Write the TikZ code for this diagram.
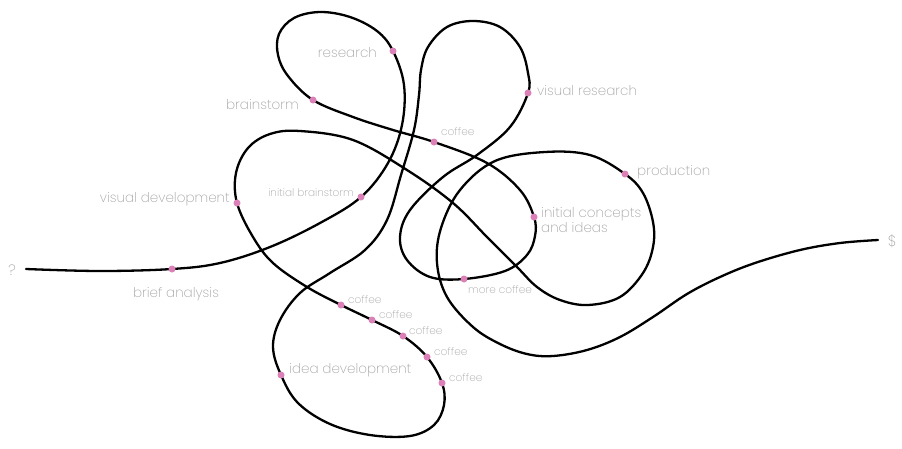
\documentclass[tikz,border=0pt]{standalone}
\usepackage{fontspec}
\setmainfont{Poppins ExtraLight}
\definecolor{txtgray}{RGB}{165,165,165}
\definecolor{dotpink}{RGB}{220,128,184}
\begin{document}
\begin{tikzpicture}[x=1pt,y=-1pt,
  path line/.style={line width=2.3pt,line join=round,line cap=round},
  lbl/.style={text=txtgray,inner sep=0pt,font=\fontsize{13.5}{14.5}\selectfont},
  endlbl/.style={text=txtgray,inner sep=0pt,font=\fontsize{15}{16}\selectfont},
  smalllbl/.style={text=txtgray,inner sep=0pt,font=\fontsize{10.5}{12}\selectfont},
  dot/.style={circle,fill=dotpink,inner sep=0pt,minimum size=7pt}]
\useasboundingbox (0,0) rectangle (902,448);
% milestone coordinates
\coordinate (start) at (26,269);
\coordinate (brief) at (172,269);
\coordinate (ibrain) at (361,197);
\coordinate (research) at (393,51);
\coordinate (brainstorm) at (313,100);
\coordinate (coffeeA) at (434,142);
\coordinate (concepts) at (534,217);
\coordinate (morecoffee) at (464,279);
\coordinate (visres) at (528,93);
\coordinate (ideadev) at (281,375);
\coordinate (cofE) at (442,383);
\coordinate (cofD) at (427,357);
\coordinate (cofC) at (403,336);
\coordinate (cofB) at (372,320);
\coordinate (cofA) at (341,305);
\coordinate (visdev) at (237,203);
\coordinate (production) at (625,174);
\coordinate (finish) at (878,240);
\draw[path line] plot[smooth,tension=0.6] coordinates {
 (start) (100,271) (brief) (220,263) (270,247) (320,223) (ibrain)
 (388,163) (402,125) (404,85) (research) (377,31) (350,17) (320,12) (294,18)
 (279,34) (278,55) (288,76) (brainstorm) (353,117) (393,130) (coffeeA)
 (487,163) (520,190) (concepts) (535,236) (527,255) (505,271) (morecoffee)
 (430,277) (407,260) (400,237) (410,210) (443,177) (477,155) (510,127)
 (visres) (528,73) (520,47) (500,27) (473,21) (447,27) (428,47) (421,70)
 (419,95) (414,130) (401,175) (387,220) (365,250) (330,273) (300,293)
 (280,320) (273,347) (ideadev) (298,403) (330,424) (370,435) (410,436)
 (434,425) (444,405) (cofE) (cofD) (cofC) (cofB) (cofA) (307,287)
 (273,263) (253,237) (visdev) (236,173) (248,148) (270,134) (300,131)
 (353,140) (407,170) (453,203) (487,237) (517,267) (537,287) (560,300)
 (588,305) (620,297) (643,273) (653,247) (653,222) (643,193) (production)
 (590,155) (545,152) (495,161) (460,190) (441,228) (437,263) (447,297)
 (473,327) (500,344) (527,354) (553,356) (587,350) (620,337) (653,317)
 (687,294) (720,277) (755,263) (800,250) (840,243) (finish)};
% dots
\foreach \p in {brief,ibrain,research,brainstorm,coffeeA,concepts,morecoffee,visres,ideadev,cofE,cofD,cofC,cofB,cofA,visdev,production}
  \node[dot] at (\p) {};
% labels
\node[endlbl] (qmark) at (12,270) {?};
\node[endlbl] (dollar) at (892,241) {\$};
\node[lbl] (tbrief) at (176,294) {brief analysis};
\node[lbl,anchor=east] (tvisdev) at (230,199) {visual development};
\node[smalllbl,anchor=east] (tibrain) at (354,193) {initial brainstorm};
\node[lbl,anchor=east] (tresearch) at (377,53) {research};
\node[lbl,anchor=east] (tbrainstorm) at (299,105) {brainstorm};
\node[smalllbl,anchor=west] (tcoffeeA) at (441,132) {coffee};
\node[lbl,anchor=west] (tvisres) at (537,91) {visual research};
\node[lbl,anchor=west] (tproduction) at (637,172) {production};
\node[lbl,anchor=west,align=left] (tconcepts) at (541,220) {initial concepts\\and ideas};
\node[smalllbl,anchor=west] (tmorecoffee) at (468,290) {more coffee};
\node[smalllbl,anchor=west] (tcofA) at (348,300) {coffee};
\node[smalllbl,anchor=west] (tcofB) at (379,315) {coffee};
\node[smalllbl,anchor=west] (tcofC) at (409,331) {coffee};
\node[smalllbl,anchor=west] (tcofD) at (434,352) {coffee};
\node[smalllbl,anchor=west] (tcofE) at (449,378) {coffee};
\node[lbl,anchor=west] (tideadev) at (289,370) {idea development};
\end{tikzpicture}
\end{document}
